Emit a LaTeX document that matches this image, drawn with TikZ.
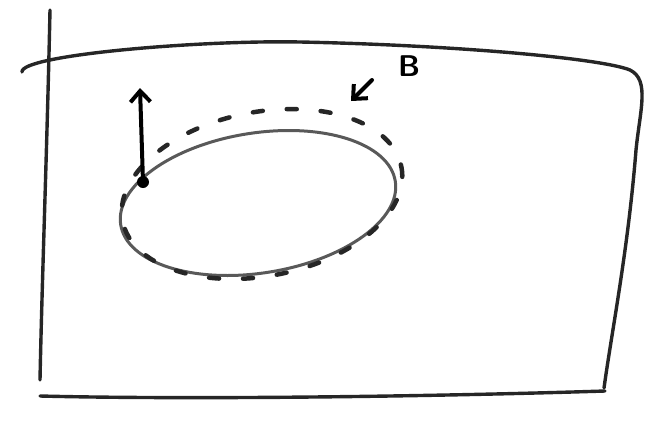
\documentclass[tikz,border=0pt]{standalone}
\usetikzlibrary{arrows.meta}
\begin{document}
\begin{tikzpicture}[x=1pt,y=-1pt,
  pen/.style={line width=3.4pt,draw=black!85,line cap=round,line join=round},
  ell/.style={line width=3pt,draw=black!65},
  dashell/.style={line width=4.5pt,draw=black!85,dash pattern=on 10pt off 24pt,line cap=round},
  arr/.style={line width=4pt,draw=black,line cap=round,-{Straight Barb[length=11pt,width=20pt,line width=4pt]}},
  lbl/.style={font=\sffamily\bfseries\fontsize{30}{30}\selectfont,inner sep=0pt}]
\useasboundingbox (0,0) rectangle (660,442);
% plane
\draw[pen] (50,10) .. controls (47,150) and (42,280) .. (40,380);
\draw[pen] (22,72) .. controls (20,55) and (200,40) .. (300,42) .. controls (450,45) and (600,58) .. (630,70)
  .. controls (650,80) and (640,110) .. (636,150) .. controls (628,250) and (612,330) .. (604,388);
\draw[pen] (40,396) .. controls (200,400) and (450,396) .. (605,391);
% ellipses
\node[coordinate] (c) at (258,203) {};
\draw[ell] (c) ellipse[x radius=139,y radius=70,rotate=9];
\draw[dashell] (262,194) ellipse[x radius=142,y radius=82,rotate=11];
% arrows
\coordinate (p) at (143,182);
\coordinate (pt) at (140,88);
\draw[arr] (p) -- (pt);
\fill (p) circle (6pt);
\node[lbl] (B) at (409,66) {B};
\coordinate (bs) at (372,80);
\coordinate (be) at (351,101);
\draw[arr] (bs) -- (be);
\end{tikzpicture}
\end{document}
